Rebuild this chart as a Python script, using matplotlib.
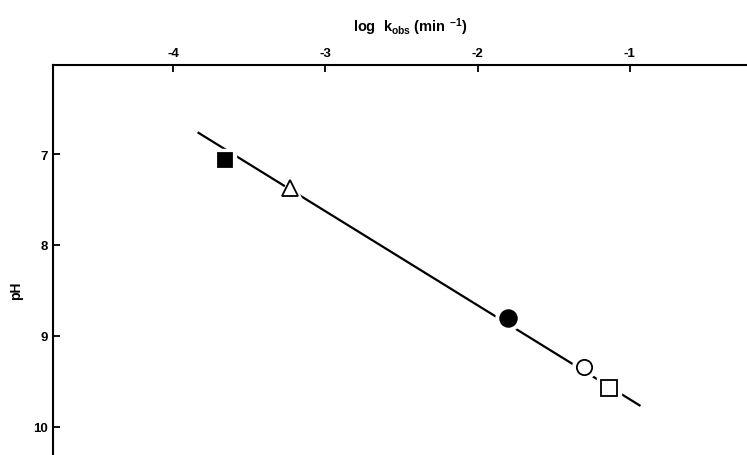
import matplotlib
matplotlib.use("Agg")
import matplotlib.pyplot as plt

plt.rcParams['font.family'] = ['Liberation Sans', 'DejaVu Sans']
plt.rcParams['mathtext.fontset'] = 'custom'
plt.rcParams['mathtext.rm'] = 'Liberation Sans:bold'
plt.rcParams['mathtext.it'] = 'Liberation Sans:bold'
plt.rcParams['mathtext.bf'] = 'Liberation Sans:bold'

# Observed rate constants and pH for each buffer condition
log_k = [-3.66, -3.23, -1.80, -1.30, -1.14]
ph = [7.06, 7.37, 8.80, 9.34, 9.57]
markers = ['s', '^', 'o', 'o', 's']
filled = [True, False, True, False, False]
sizes = [10, 11.5, 12, 11, 11.5]

# Regression line end points
line_log_k = [-3.84, -0.93]
line_ph = [6.76, 9.77]

x_ticks = [-4, -3, -2, -1]
y_ticks = [7, 8, 9, 10]

fig = plt.figure(figsize=(7.47, 4.56), dpi=100)
ax = fig.add_axes([53 / 747, 0.0, 1 - 53 / 747, 1 - 66 / 456])

ax.plot(line_log_k, line_ph, color='black', lw=1.6, solid_capstyle='butt', zorder=1)

for x, y, m, f, s in zip(log_k, ph, markers, filled, sizes):
    # white halo leaves a small gap in the line around each symbol
    ax.plot([x], [y], marker=m, ms=s + 6, color='white', mec='white', ls='none', zorder=2)
    ax.plot([x], [y], marker=m, ms=s, ls='none', zorder=3,
            mfc='black' if f else 'white', mec='black', mew=1.3)

ax.set_xlim(-4.79, -0.23)
ax.set_ylim(10.31, 6.02)

ax.xaxis.tick_top()
ax.xaxis.set_label_position('top')
ax.set_xticks(x_ticks)
ax.set_xticklabels([str(v) for v in x_ticks])
ax.set_yticks(y_ticks)
ax.set_yticklabels([str(v) for v in y_ticks])

for side in ['bottom', 'right']:
    ax.spines[side].set_visible(False)
for side in ['top', 'left']:
    ax.spines[side].set_linewidth(1.5)

ax.tick_params(direction='in', length=5, width=1.3, labelsize=9.5, pad=4)
for lab in ax.get_xticklabels() + ax.get_yticklabels():
    lab.set_fontweight('bold')

ax.set_xlabel(r'log  k$_{\mathrm{obs}}$ (min $^{\mathrm{-1}}$)', fontsize=10.5,
              fontweight='bold')
ax.xaxis.set_label_coords(0.514, 1.072)
ax.xaxis.label.set_verticalalignment('bottom')
ax.set_ylabel('pH', fontsize=10, fontweight='bold')
ax.yaxis.set_label_coords(-0.043, 0.423)

fig.savefig('out.png', dpi=100)
